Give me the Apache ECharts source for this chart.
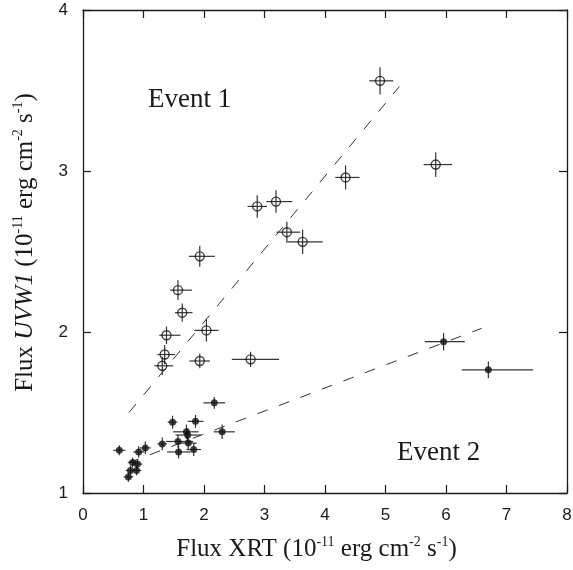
<!DOCTYPE html>
<html>
<head>
<meta charset="utf-8">
<script src="https://cdn.jsdelivr.net/npm/echarts@6/dist/echarts.min.js"></script>
<style>html,body{margin:0;padding:0;background:#fff}#c{width:573px;height:570px}</style>
</head>
<body>
<div id="c"></div>
<script>
// ---- Data ----
const xTicks = [0, 1, 2, 3, 4, 5, 6, 7, 8];
const yTicks = [1, 2, 3, 4];

// Event 1 (open circles)
const e1X    = [4.91, 5.83, 4.34, 2.88, 3.19, 3.37, 3.63, 1.93, 1.57, 1.64, 1.38, 2.04, 1.35, 1.31, 1.93, 2.77];
const e1Y    = [3.56, 3.04, 2.96, 2.78, 2.81, 2.62, 2.56, 2.47, 2.26, 2.12, 1.98, 2.01, 1.86, 1.79, 1.82, 1.83];
const e1XLo  = [0.18, 0.20, 0.17, 0.16, 0.16, 0.17, 0.25, 0.18, 0.13, 0.12, 0.12, 0.20, 0.12, 0.13, 0.17, 0.31];
const e1XHi  = [0.22, 0.27, 0.23, 0.16, 0.27, 0.22, 0.33, 0.25, 0.23, 0.17, 0.23, 0.20, 0.17, 0.18, 0.17, 0.47];
const e1YErr = [0.085, 0.077, 0.075, 0.07, 0.07, 0.065, 0.075, 0.065, 0.062, 0.057, 0.054, 0.07, 0.06, 0.057, 0.045, 0.047];

// Event 2 (filled dots)
const e2X    = [0.60, 0.75, 0.785, 0.885, 0.82, 0.90, 0.92, 1.03, 1.31, 1.48, 1.57, 1.58, 1.71, 1.73, 1.74, 1.83, 1.86, 2.17, 2.30, 5.96, 6.70];
const e2Y    = [1.265, 1.10, 1.14, 1.14, 1.19, 1.18, 1.255, 1.28, 1.305, 1.44, 1.32, 1.255, 1.38, 1.36, 1.31, 1.27, 1.445, 1.56, 1.38, 1.94, 1.765];
const e2XLo  = [0.10, 0.08, 0.08, 0.08, 0.08, 0.08, 0.09, 0.09, 0.08, 0.08, 0.20, 0.19, 0.22, 0.20, 0.12, 0.12, 0.13, 0.18, 0.14, 0.31, 0.44];
const e2XHi  = [0.10, 0.08, 0.08, 0.08, 0.08, 0.08, 0.09, 0.09, 0.08, 0.08, 0.25, 0.20, 0.20, 0.22, 0.14, 0.12, 0.13, 0.18, 0.21, 0.35, 0.74];
const e2YErr = [0.031, 0.03, 0.03, 0.03, 0.03, 0.03, 0.035, 0.04, 0.04, 0.04, 0.04, 0.04, 0.045, 0.04, 0.04, 0.04, 0.04, 0.036, 0.045, 0.054, 0.052];

// Dashed linear fits (end points)
const fit1X = [0.76, 5.23];
const fit1Y = [1.50, 3.525];
const fit2X = [0.75, 6.59];
const fit2Y = [1.187, 2.023];

// ---- Build ----
const zip = (...arrs) => arrs[0].map((_, i) => arrs.map(a => a[i]));
const serif = 'Liberation Serif';
const sans = 'Liberation Sans';
const ink = '#1a1a1a';

function errRender(params, api) {
  const x = api.value(0), y = api.value(1);
  const xl = api.value(2), xh = api.value(3), ye = api.value(4);
  const a = api.coord([x - xl, y]), b = api.coord([x + xh, y]);
  const c = api.coord([x, y - ye]), d = api.coord([x, y + ye]);
  const st = { stroke: '#333', lineWidth: 1.2 };
  return {
    type: 'group',
    children: [
      { type: 'line', shape: { x1: a[0], y1: a[1], x2: b[0], y2: b[1] }, style: st },
      { type: 'line', shape: { x1: c[0], y1: c[1], x2: d[0], y2: d[1] }, style: st }
    ]
  };
}

const nameRich = {
  n: { fontFamily: serif, fontSize: 25, lineHeight: 28, color: ink },
  i: { fontFamily: serif, fontSize: 25, lineHeight: 28, color: ink, fontStyle: 'italic' },
  s: { fontFamily: serif, fontSize: 14, lineHeight: 14, color: ink, verticalAlign: 'top' }
};

const axisCommon = {
  type: 'value',
  axisLine: { show: true, onZero: false, lineStyle: { color: ink, width: 1.3 } },
  axisTick: { show: true, inside: true, length: 8, lineStyle: { color: ink, width: 1.2 } },
  splitLine: { show: false },
  minorTick: { show: false }
};

const option = {
  animation: false,
  backgroundColor: '#fff',
  grid: { left: 83, right: 6, top: 10, bottom: 77, containLabel: false, outerBoundsMode: 'none' },
  xAxis: [
    Object.assign({}, axisCommon, {
      position: 'bottom', min: xTicks[0], max: xTicks[xTicks.length - 1], interval: 1,
      axisLabel: { show: true, margin: 14, fontFamily: sans, fontSize: 17, color: ink },
      name: '{n|Flux XRT (10}{s|-11}{n| erg cm}{s|-2}{n| s}{s|-1}{n|)}',
      nameLocation: 'middle', nameGap: 42,
      nameTextStyle: { rich: nameRich, padding: [0, 17, 0, 0] }
    }),
    Object.assign({}, axisCommon, {
      position: 'top', min: xTicks[0], max: xTicks[xTicks.length - 1], interval: 1,
      axisLabel: { show: false }
    })
  ],
  yAxis: [
    Object.assign({}, axisCommon, {
      position: 'left', min: yTicks[0], max: yTicks[yTicks.length - 1], interval: 1,
      axisLabel: { show: true, margin: 15, fontFamily: sans, fontSize: 17, color: ink },
      name: '{n|Flux }{i|UVW1}{n| (10}{s|-11}{n| erg cm}{s|-2}{n| s}{s|-1}{n|)}',
      nameLocation: 'middle', nameRotate: 90, nameGap: 44,
      nameTextStyle: { rich: nameRich, padding: [0, 0, 0, 18] }
    }),
    Object.assign({}, axisCommon, {
      position: 'right', min: yTicks[0], max: yTicks[yTicks.length - 1], interval: 1,
      axisLabel: { show: false }
    })
  ],
  graphic: [
    { type: 'text', left: 148, top: 86, style: { text: 'Event 1', fontFamily: serif, fontSize: 27, fill: ink } },
    { type: 'text', left: 397, top: 439, style: { text: 'Event 2', fontFamily: serif, fontSize: 27, fill: ink } }
  ],
  series: [
    {
      name: 'Fit 1', type: 'line', data: zip(fit1X, fit1Y), showSymbol: false, silent: true, z: 1,
      lineStyle: { color: '#333', width: 1, type: [11, 12] }
    },
    {
      name: 'Fit 2', type: 'line', data: zip(fit2X, fit2Y), showSymbol: false, silent: true, z: 1,
      lineStyle: { color: '#333', width: 1, type: [11, 12] }
    },
    {
      name: 'Event 1 points', type: 'scatter', data: zip(e1X, e1Y), symbol: 'circle', symbolSize: 9, z: 3,
      itemStyle: { color: 'transparent', borderColor: '#111', borderWidth: 1.4 }
    },
    {
      name: 'Event 2 points', type: 'scatter', data: zip(e2X, e2Y), symbol: 'circle', symbolSize: 7, z: 3,
      itemStyle: { color: '#111' }
    },
    {
      name: 'Event 1 errors', type: 'custom', renderItem: errRender, z: 2,
      data: zip(e1X, e1Y, e1XLo, e1XHi, e1YErr), encode: { x: 0, y: 1 }
    },
    {
      name: 'Event 2 errors', type: 'custom', renderItem: errRender, z: 2,
      data: zip(e2X, e2Y, e2XLo, e2XHi, e2YErr), encode: { x: 0, y: 1 }
    }
  ]
};

const chart = echarts.init(document.getElementById('c'), null, { renderer: 'canvas' });
chart.setOption(option);
</script>
</body>
</html>
